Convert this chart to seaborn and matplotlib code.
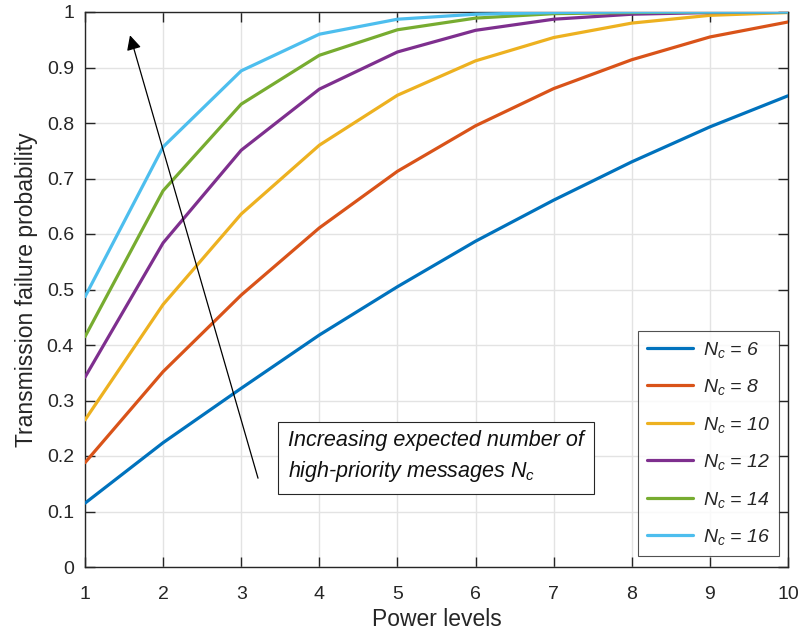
import numpy as np
import pandas as pd
import matplotlib
matplotlib.use("Agg")
import matplotlib.pyplot as plt
import seaborn as sns
from matplotlib.ticker import FuncFormatter

# ---- data ----
power_levels = [1, 2, 3, 4, 5, 6, 7, 8, 9, 10]
nc_6 = [0.115, 0.224, 0.322, 0.418, 0.505, 0.587, 0.661, 0.730, 0.793, 0.849]
nc_8 = [0.188, 0.352, 0.490, 0.611, 0.713, 0.795, 0.862, 0.914, 0.955, 0.982]
nc_10 = [0.265, 0.473, 0.636, 0.760, 0.850, 0.912, 0.954, 0.980, 0.994, 0.999]
nc_12 = [0.342, 0.584, 0.751, 0.861, 0.928, 0.967, 0.987, 0.996, 0.999, 1.000]
nc_14 = [0.415, 0.678, 0.834, 0.922, 0.968, 0.989, 0.997, 0.999, 1.000, 1.000]
nc_16 = [0.487, 0.757, 0.894, 0.960, 0.987, 0.996, 0.999, 1.000, 1.000, 1.000]
series_labels = [r'$N_c$ = 6', r'$N_c$ = 8', r'$N_c$ = 10',
                 r'$N_c$ = 12', r'$N_c$ = 14', r'$N_c$ = 16']
colors = ['#0072BD', '#D95319', '#EDB120', '#7E2F8E', '#77AC30', '#4DBEEE']
y_ticks = [0, 0.1, 0.2, 0.3, 0.4, 0.5, 0.6, 0.7, 0.8, 0.9, 1.0]
x_ticks = [1, 2, 3, 4, 5, 6, 7, 8, 9, 10]
annotation_text = 'Increasing expected number of\nhigh-priority messages $N_c$'

series = [nc_6, nc_8, nc_10, nc_12, nc_14, nc_16]
df = pd.DataFrame({
    'x': power_levels * len(series),
    'y': sum(series, []),
    'label': sum([[lab] * len(power_levels) for lab in series_labels], []),
})

sns.set_style('white')
plt.rcParams['font.family'] = ['Liberation Sans', 'DejaVu Sans']
plt.rcParams['mathtext.fontset'] = 'custom'
plt.rcParams['mathtext.it'] = 'Liberation Sans:italic'
plt.rcParams['mathtext.rm'] = 'Liberation Sans:italic'

fig = plt.figure(figsize=(8.04, 6.33), dpi=100)
ax = fig.add_axes([85 / 804, (633 - 567) / 633, 703 / 804, 555 / 633])

sns.lineplot(data=df, x='x', y='y', hue='label', hue_order=series_labels,
             palette=colors, linewidth=2.3, ax=ax, legend=False, zorder=3)

ax.set_xlim(1, 10)
ax.set_ylim(0, 1)
ax.set_xticks(x_ticks)
ax.set_yticks(y_ticks)
ax.yaxis.set_major_formatter(FuncFormatter(lambda v, p: f'{v:g}'))
ax.grid(True, color='#e3e3e3', linewidth=1.0, zorder=0)
for s in ax.spines.values():
    s.set_color('#262626')
    s.set_linewidth(1.0)
ax.tick_params(direction='in', length=7, width=1.0, colors='#262626',
               labelsize=14, top=True, right=True, bottom=True, left=True)
ax.tick_params(axis='y', pad=8)
ax.tick_params(axis='x', pad=14)
for lab in ax.get_xticklabels() + ax.get_yticklabels():
    lab.set_color('#262626')
ax.set_xlabel('Power levels', fontsize=16.5, color='#262626', labelpad=3)
ax.set_ylabel('Transmission failure probability', fontsize=16.5,
              color='#262626', labelpad=6)

handles = [plt.Line2D([], [], color=c, lw=2.3) for c in colors]
leg = ax.legend(handles, series_labels, loc='lower right',
                bbox_to_anchor=((779 - 85) / 703, (567 - 556) / 555),
                borderaxespad=0, frameon=True, fancybox=False,
                prop={'size': 14, 'style': 'italic'},
                handlelength=2.4, handletextpad=0.5, labelspacing=0.9,
                borderpad=0.45)
leg.get_frame().set_edgecolor('#262626')
leg.get_frame().set_linewidth(0.8)
leg.set_zorder(5)

ax.annotate('', xy=(1.576, 0.958), xytext=(3.215, 0.160),
            arrowprops=dict(arrowstyle='-|>', color='black', lw=0.9,
                            mutation_scale=22, shrinkA=0, shrinkB=0),
            zorder=6)

ax.text(1 + (288 - 85) / 78.1, (567 - 457) / 555, annotation_text,
        fontsize=15.5, style='italic', color='#111111', va='center', ha='left',
        linespacing=1.45,
        bbox=dict(boxstyle='square,pad=0.45', facecolor='white',
                  edgecolor='#262626', linewidth=0.8), zorder=6)

fig.savefig('out.png', dpi=100)
